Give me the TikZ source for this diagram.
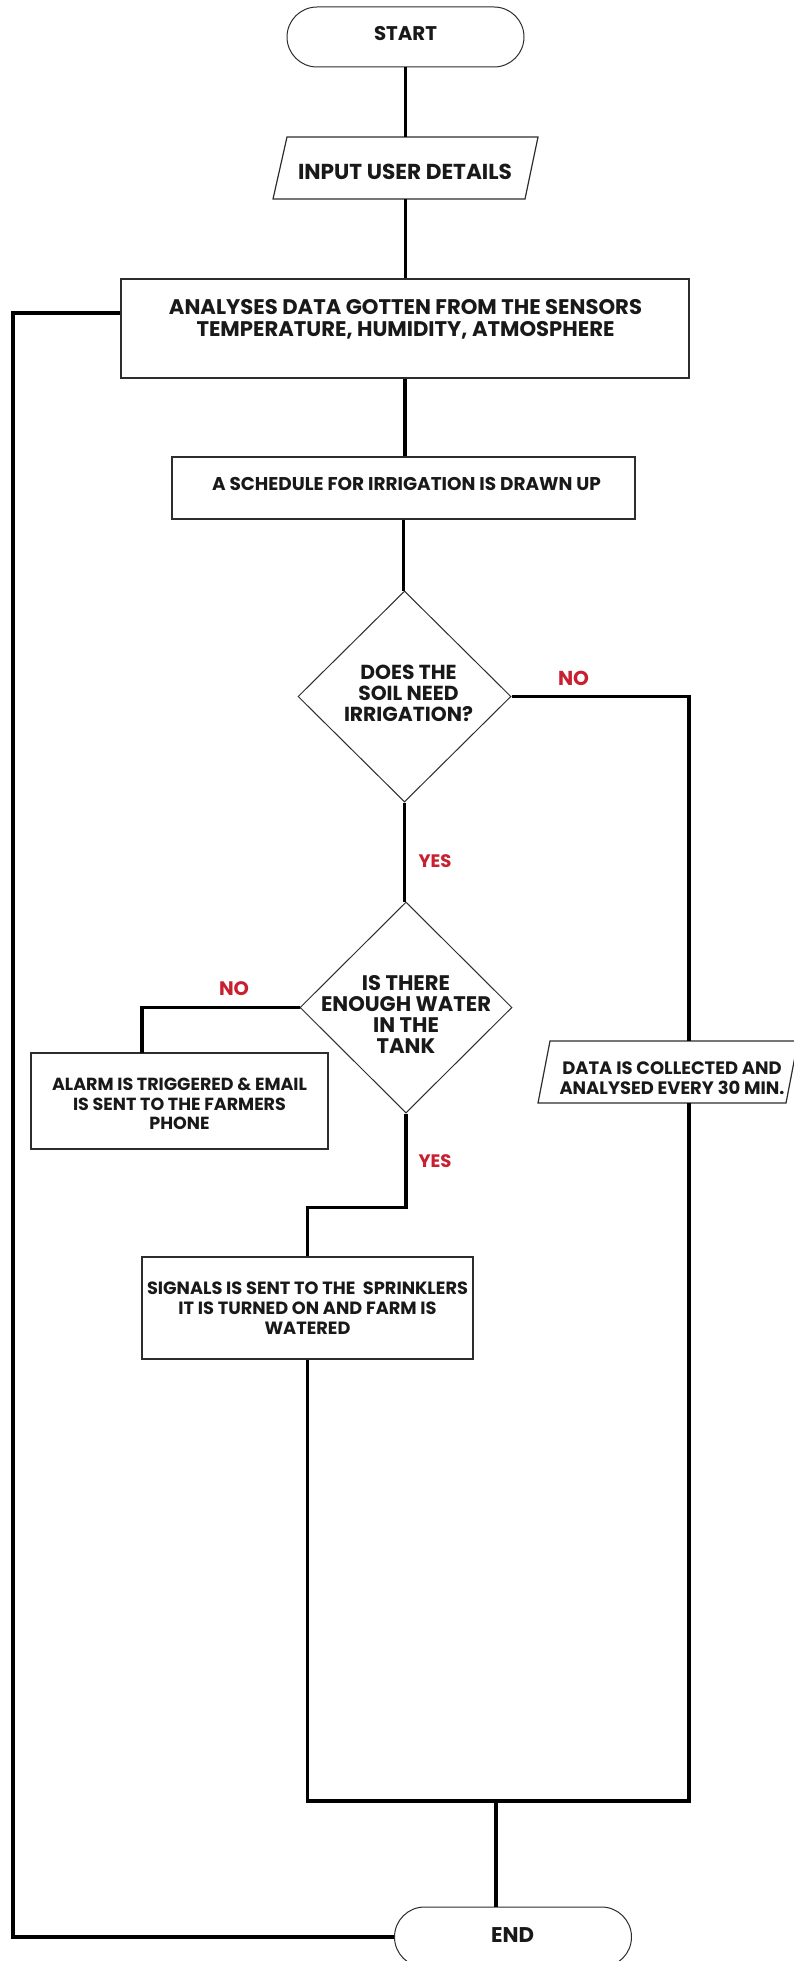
\documentclass[tikz,border=0pt]{standalone}
\usepackage{fontspec}
\usepackage{graphicx}
\setmainfont{Poppins}
\usetikzlibrary{shapes.geometric,shapes.misc}
\definecolor{lblred}{RGB}{200,32,48}
\definecolor{edgec}{RGB}{45,45,45}
\definecolor{txtc}{RGB}{25,25,25}
\newcommand{\fitw}[2]{\resizebox{#1}{!}{\begin{tabular}{@{}c@{}}#2\end{tabular}}}
\begin{document}
\begin{tikzpicture}[x=1pt,y=-1pt,
  box/.style={draw=edgec,line width=1.3pt,rectangle,inner sep=0pt},
  pill/.style={draw=edgec,line width=1pt,rounded rectangle,minimum width=237pt,minimum height=60pt,inner sep=0pt},
  dec/.style={draw=edgec,line width=1pt,diamond,inner sep=0pt},
  conn/.style={line width=3.3pt,black},
  txt/.style={font=\bfseries\fontsize{20}{21}\selectfont,align=center,inner sep=0pt,text=txtc},
  txtloose/.style={txt,font=\bfseries\fontsize{20}{22.5}\selectfont},
  txttight/.style={txt,font=\bfseries\fontsize{20}{19.5}\selectfont},
  lbl/.style={font=\bfseries\fontsize{17}{21}\selectfont,text=lblred,inner sep=0pt}]

\fill[white] (0,0) rectangle (793,1961);
\useasboundingbox (0,0) rectangle (793,1961);

% shapes
\node[pill] (start) at (405.5,37) {};
\node[txt] (tstart) at (405.5,36.8) {\fitw{63pt}{START}};

\draw[edgec,line width=1.2pt] (287,137) -- (538,137) -- (525,199) -- (273,199) -- cycle;
\node[minimum width=251pt,minimum height=62pt,inner sep=0pt] (input) at (405.5,168) {};
\node[txt] (tinput) at (405,174.8) {\fitw{214pt}{INPUT USER DETAILS}};

\node[box,minimum width=568pt,minimum height=99pt] (analyses) at (405,328.5) {};
\node[txt] (tanalyses) at (405.5,321.3) {\fitw{473pt}{ANALYSES DATA GOTTEN FROM THE SENSORS\\TEMPERATURE, HUMIDITY, ATMOSPHERE}};

\node[box,minimum width=463pt,minimum height=62pt] (schedule) at (403.5,488) {};
\node[txt] (tschedule) at (406.5,486.8) {\fitw{389pt}{A SCHEDULE FOR IRRIGATION IS DRAWN UP}};

\node[dec,minimum width=213pt,minimum height=211pt] (d1) at (404.5,696.5) {};
\node[txt] (td1) at (408.5,696.3) {\fitw{129pt}{DOES THE\\SOIL NEED\\IRRIGATION?}};

\node[dec,minimum width=212pt,minimum height=211pt] (d2) at (406,1007.5) {};
\node[txttight] (td2) at (406,1017.3) {\fitw{170pt}{IS THERE\\ENOUGH WATER\\IN THE\\TANK}};

\node[box,minimum width=297pt,minimum height=96pt] (alarm) at (179.5,1101) {};
\node[txtloose] (talarm) at (179.5,1106.3) {\fitw{255pt}{ALARM IS TRIGGERED \& EMAIL\\IS SENT TO THE FARMERS\\PHONE}};

\draw[edgec,line width=1.2pt] (550,1041) -- (798,1041) -- (786,1103) -- (538,1103) -- cycle;
\node[txtloose] (data) at (672,1080.3) {\fitw{225pt}{DATA IS COLLECTED AND\\ANALYSED EVERY 30 MIN.}};
\coordinate (dtop) at (689,1041);
\coordinate (dbot) at (689,1103);

\node[box,minimum width=331pt,minimum height=102pt] (signals) at (307.5,1308) {};
\node[txtloose] (tsignals) at (307.5,1310.8) {\fitw{321pt}{SIGNALS IS SENT TO THE\ \ SPRINKLERS\\IT IS TURNED ON AND FARM IS\\WATERED}};

\node[pill] (end) at (513,1937) {};
\node[txt] (tend) at (512.5,1937.8) {\fitw{43pt}{END}};

% labels
\node[lbl] (no1) at (573.5,678) {\resizebox{31pt}{!}{NO}};
\node[lbl] (yes1) at (435,861) {\resizebox{33pt}{!}{YES}};
\node[lbl] (no2) at (234,989) {\resizebox{30pt}{!}{NO}};
\node[lbl] (yes2) at (435,1161) {\resizebox{33pt}{!}{YES}};

% connectors
\draw[conn] (start.south) -- (start.south |- input.north);
\draw[conn] (input.south) -- (input.south |- analyses.north);
\draw[conn] (analyses.south) -- (analyses.south |- schedule.north);
\draw[conn] (schedule.south) -- (schedule.south |- d1.north);
\draw[conn] (d1.south) -- (d1.south |- d2.north);

\coordinate (loopL) at (13,313);
\draw[conn] (analyses.west |- loopL) -- (loopL) |- (end.west);

\draw[conn] (d1.east) -| (dtop);
\coordinate (botR) at (689,1801);
\draw[conn] (dbot) -- (botR) -- (botR -| signals.south) -- (signals.south);
\draw[line width=4.6pt] (botR) -- (botR -| signals.south);

\coordinate (botM) at (496,1801);
\draw[conn] (botM) -- (botM |- end.north);

\coordinate (alarmin) at (142,1053);
\draw[conn] (d2.west) -| (alarmin);

\draw[conn] (d2.south) -- ++(0,94) -| (signals.north);
\end{tikzpicture}
\end{document}
